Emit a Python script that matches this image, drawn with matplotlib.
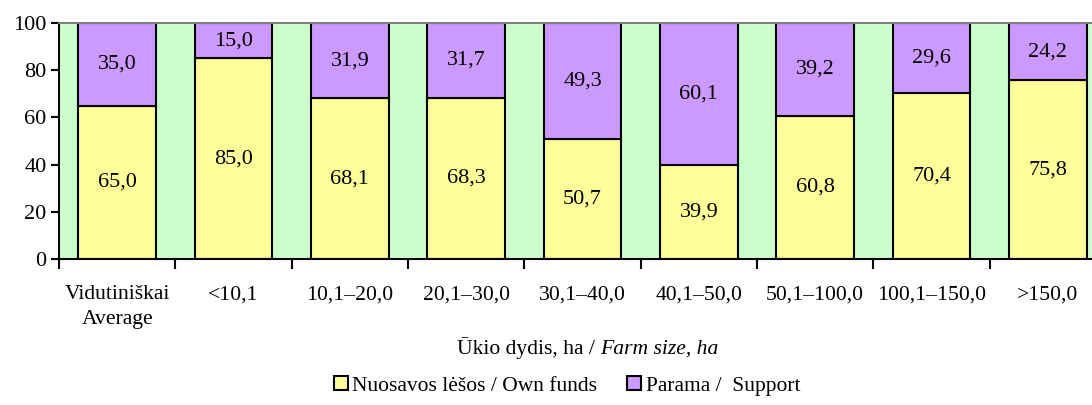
import matplotlib
matplotlib.use("Agg")
import matplotlib.pyplot as plt
import numpy as np

categories = ["Vidutiniškai\nAverage", "<10,1", "10,1–20,0", "20,1–30,0", "30,1–40,0",
              "40,1–50,0", "50,1–100,0", "100,1–150,0", ">150,0"]
own_funds = [65.0, 85.0, 68.1, 68.3, 50.7, 39.9, 60.8, 70.4, 75.8]
support = [35.0, 15.0, 31.9, 31.7, 49.3, 60.1, 39.2, 29.6, 24.2]
yticks = [0, 20, 40, 60, 80, 100]

plt.rcParams['font.family'] = ['Liberation Serif', 'DejaVu Serif']

W, H = 1092, 405
fig = plt.figure(figsize=(W / 100, H / 100), dpi=100)
ax = fig.add_axes([59 / W, 146 / H, 1047 / W, 236 / H])
ax.set_facecolor('#CCFFCC')

x = np.arange(len(categories))
w = 0.67
yc, pc = '#FFFF99', '#CC99FF'
b1 = ax.bar(x, own_funds, w, color=yc, edgecolor='black', linewidth=1.5,
            label='Nuosavos lėšos / Own funds')
b2 = ax.bar(x, support, w, bottom=own_funds, color=pc, edgecolor='black', linewidth=1.5,
            label='Parama /  Support')

fs = 16
for i in range(len(categories)):
    ax.text(x[i], own_funds[i] / 2, f"{own_funds[i]:.1f}".replace('.', ','),
            ha='center', va='center', fontsize=fs)
    ax.text(x[i], own_funds[i] + support[i] / 2, f"{support[i]:.1f}".replace('.', ','),
            ha='center', va='center', fontsize=fs)

ax.set_xlim(-0.5, len(categories) - 0.5)
ax.set_ylim(0, 100)
ax.set_yticks(yticks)
ax.tick_params(axis='y', labelsize=fs, length=6, width=1.5, direction='out', pad=3)
ax.set_xticks(x)
ax.set_xticklabels(categories, fontsize=15.6, linespacing=1.4)
ax.tick_params(axis='x', length=0, pad=19)
ax.set_xticks(np.arange(len(categories) + 1) - 0.5, minor=True)
ax.tick_params(axis='x', which='minor', length=7, width=1.5, direction='out')

for s in ['left', 'bottom']:
    ax.spines[s].set_linewidth(1.5)
    ax.spines[s].set_color('black')
ax.spines['top'].set_color('#808080')
ax.spines['top'].set_linewidth(1.5)
ax.spines['right'].set_visible(False)

# x-axis title: normal part + italic part, centred together
renderer = fig.canvas.get_renderer()
t1 = fig.text(0, 1 - 354 / H, "Ūkio dydis, ha / ", fontsize=15.6, ha='left', va='baseline')
t2 = fig.text(0, 1 - 354 / H, "Farm size, ha", fontsize=15.6, style='italic',
              ha='left', va='baseline')
w1 = t1.get_window_extent(renderer).width
w2 = t2.get_window_extent(renderer).width
xstart = 588 - (w1 + w2) / 2
t1.set_x(xstart / W)
t2.set_x((xstart + w1) / W)

leg = fig.legend(handles=[b1, b2], loc='center', bbox_to_anchor=(567 / W, 1 - 386 / H),
                 ncol=2, frameon=False, fontsize=15.5, handlelength=0.65, handleheight=0.65,
                 handletextpad=0.2, columnspacing=1.4, borderpad=0)

fig.savefig('out.png', dpi=100)
